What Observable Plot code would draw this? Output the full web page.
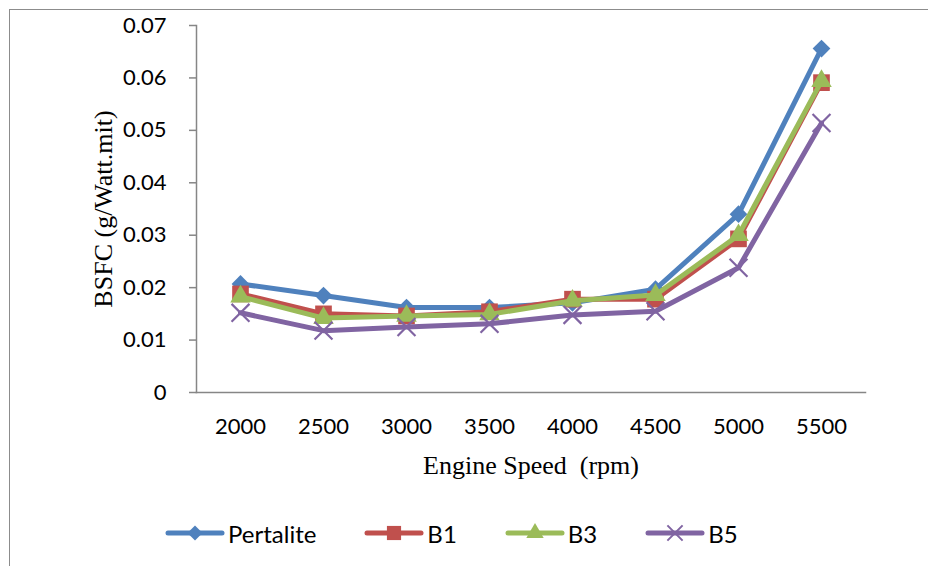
<!DOCTYPE html>
<html>
<head>
<meta charset="utf-8">
<script src="https://cdn.jsdelivr.net/npm/d3@7"></script>
<script src="https://cdn.jsdelivr.net/npm/@observablehq/plot@0.6"></script>
<style>
  html, body { margin: 0; padding: 0; background: #fff; }
  #wrap { position: relative; width: 928px; height: 566px; overflow: hidden; background: #fff; }
  #border { position: absolute; left: 9px; top: 9px; width: 2000px; height: 2000px; border: 1.5px solid #8c8c8c; pointer-events: none; }
  #chart { position: absolute; left: 0; top: 0; }
  #legend { position: absolute; left: 165px; top: 490px; height: 86px; display: flex; align-items: center; gap: 48px; font-family: Lato, sans-serif; font-size: 24px; color: #000; }
  #legend .item { display: flex; align-items: center; }
  #legend svg { display: block; margin-right: 3px; }
</style>
</head>
<body>
<div id="wrap">
  <div id="chart"></div>
  <div id="legend"></div>
  <div id="border"></div>
</div>
<script>
const speeds = ["2000", "2500", "3000", "3500", "4000", "4500", "5000", "5500"];
const seriesNames = ["Pertalite", "B1", "B3", "B5"];
const pertalite = [0.0207, 0.0185, 0.0162, 0.0162, 0.0171, 0.0197, 0.0340, 0.0656];
const b1 = [0.0188, 0.0150, 0.0146, 0.0154, 0.0178, 0.0178, 0.0293, 0.0591];
const b3 = [0.0183, 0.0142, 0.0146, 0.0149, 0.0175, 0.0186, 0.0300, 0.0594];
const b5 = [0.0152, 0.0118, 0.0125, 0.0131, 0.0148, 0.0155, 0.0238, 0.0514];
const yTicks = [0, 0.01, 0.02, 0.03, 0.04, 0.05, 0.06, 0.07];
const yTickLabels = ["0", "0.01", "0.02", "0.03", "0.04", "0.05", "0.06", "0.07"];
const colors = ["#4F81BD", "#C0504D", "#9BBB59", "#8064A2"];
const symbols = ["diamond2", "square", "triangle", "times"];
const d3Symbols = [d3.symbolDiamond2, d3.symbolSquare, d3.symbolTriangle, d3.symbolTimes];
const radii = [8.0, 9.4, 7.6, 8.2];

const values = [pertalite, b1, b3, b5];
const series = seriesNames.map((name, i) => ({
  name, color: colors[i], symbol: symbols[i], r: radii[i],
  data: speeds.map((s, j) => ({speed: s, value: values[i][j], series: name}))
}));

const marks = [
  Plot.frame({anchor: "left", stroke: "#868686", strokeWidth: 1.5}),
  Plot.frame({anchor: "bottom", stroke: "#868686", strokeWidth: 1.5}),
  Plot.axisY({ticks: yTicks, tickFormat: (d) => yTickLabels[yTicks.indexOf(d)], tickSize: 7, tickPadding: 23, stroke: "#868686", strokeWidth: 1.5, fill: "#000", fontSize: 22, label: null}),
  Plot.axisX({tickSize: 0, tickPadding: 26, fill: "#000", fontSize: 22, label: null}),
  Plot.text(["BSFC (g/Watt.mit)"], {frameAnchor: "left", textAnchor: "middle", lineAnchor: "middle", rotate: -90, dx: -93, fontFamily: "Liberation Serif", fontSize: 26, fill: "#000"}),
  Plot.text(["Engine Speed  (rpm)"], {frameAnchor: "bottom", textAnchor: "middle", lineAnchor: "middle", dy: 73, fontFamily: "Liberation Serif", fontSize: 26, fill: "#000"})
];
for (const s of series) {
  marks.push(Plot.line(s.data, {x: "speed", y: "value", stroke: s.color, strokeWidth: 5, strokeLinejoin: "round", strokeLinecap: "round"}));
  if (s.symbol === "times") {
    marks.push(Plot.dot(s.data, {x: "speed", y: "value", symbol: s.symbol, r: s.r, stroke: s.color, strokeWidth: 2.2, fill: "none"}));
  } else {
    marks.push(Plot.dot(s.data, {x: "speed", y: "value", symbol: s.symbol, r: s.r, fill: s.color, stroke: "none"}));
  }
}

const chart = Plot.plot({
  width: 928,
  height: 490,
  marginTop: 25,
  marginBottom: 98,
  marginLeft: 196,
  marginRight: 63,
  style: {fontFamily: "Lato, sans-serif", fontSize: "22px", color: "#000", background: "transparent"},
  x: {type: "point", domain: speeds, padding: 0.5},
  y: {domain: [0, 0.07]},
  marks
});
document.getElementById("chart").appendChild(chart);

// legend
const legend = d3.select("#legend");
series.forEach((s, i) => {
  const item = legend.append("div").attr("class", "item");
  const svg = item.append("svg").attr("width", 60).attr("height", 24);
  svg.append("line").attr("x1", 3).attr("x2", 57).attr("y1", 12).attr("y2", 12)
    .attr("stroke", s.color).attr("stroke-width", 5).attr("stroke-linecap", "round");
  const rr = s.r * 0.85;
  const path = d3.symbol(d3Symbols[i], rr * rr * Math.PI)();
  const p = svg.append("path").attr("d", path).attr("transform", "translate(30,12)");
  if (s.symbol === "times") p.attr("fill", "none").attr("stroke", s.color).attr("stroke-width", 2);
  else p.attr("fill", s.color);
  item.append("span").text(s.name);
});
</script>
</body>
</html>
